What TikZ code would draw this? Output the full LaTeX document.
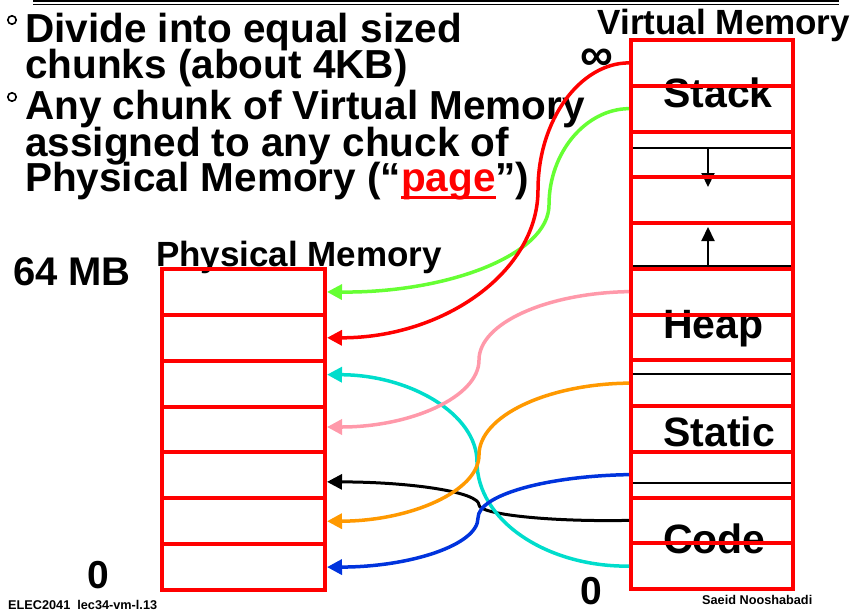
\documentclass[tikz,border=0pt]{standalone}
\usepackage{fontspec}
\setmainfont{Liberation Sans}
\usetikzlibrary{arrows.meta,calc}
\definecolor{pred}{RGB}{255,0,0}
\definecolor{pgreen}{RGB}{102,255,51}
\definecolor{ppink}{RGB}{255,153,170}
\definecolor{pcyan}{RGB}{0,221,204}
\definecolor{porange}{RGB}{255,153,0}
\definecolor{pblue}{RGB}{0,51,221}
\newcommand\myfs[1]{\fontsize{#1}{#1}\selectfont\bfseries}
\newcommand\pageul[1]{\setbox0\hbox{#1}\rlap{\rule[-8pt]{\wd0}{3pt}}#1}
\begin{document}
\begin{tikzpicture}[x=1pt,y=-1pt,
  memrow/.style={draw=pred, line width=4pt, minimum width=162pt, minimum height=45.75pt, inner sep=0pt},
  physrow/.style={memrow, minimum width=163pt, minimum height=45.86pt},
  link/.style={line width=3.5pt, -{Triangle[length=15pt,width=15pt]}},
  txt/.style={inner sep=0pt, anchor=base west},
  bodytxt/.style={txt, font=\myfs{40.5}},
  seglabel/.style={txt, font=\myfs{41}},
  ring/.style={draw, circle, line width=1.6pt, minimum size=8.4pt, inner sep=0pt},
  divider/.style={line width=2.5pt},
  growarrow/.style={line width=2pt, -{Triangle[length=14pt,width=13pt]}}
]
\useasboundingbox (0,0) rectangle (855,610);

% top double rule
\draw[line width=2.5pt] (33,1.25) -- (839,1.25);
\draw[line width=1pt] (33,4.8) -- (839,4.8);

% bullets and body text
\node[ring] (b1) at (12,20) {};
\node[ring] (b2) at (12,97) {};
\node[bodytxt] (t1) at (25,43) {Divide into equal sized};
\node[bodytxt] (t2) at (25,78) {chunks (about 4KB)};
\node[bodytxt] (t3) at (25,120) {Any chunk of Virtual Memory};
\node[bodytxt] (t4) at (25,156) {assigned to any chuck of};
\node[bodytxt] (t5) at (25,191) {Physical Memory (“{\color{pred}\pageul{page}}”)};

% titles and labels
\node[inner sep=0pt, anchor=base, font=\myfs{35}] (vt) at (724,35) {Virtual Memory};
\node[inner sep=0pt, anchor=base, font=\myfs{35}] (pt) at (299,266) {Physical Memory};
\node[inner sep=0pt, anchor=base, font=\myfs{40}] (mb) at (72,285) {64 MB};
\node[inner sep=0pt, anchor=base, font=\myfs{39}] (z1) at (98,588) {0};
\node[inner sep=0pt, anchor=base, font=\myfs{39}] (z2) at (591,604) {0};
\node[inner sep=0pt, font=\myfs{46}] (inf) at (597,60) {∞};
\node[txt, font=\myfs{12.7}] (foot1) at (8,609) {ELEC2041\ \ lec34-vm-l.13};
\node[txt, font=\myfs{12.7}] (foot2) at (702,604) {Saeid Nooshabadi};

% segment labels (under the red rows)
\node[seglabel] (stack) at (663,108) {Stack};
\node[seglabel] (heap) at (663,338) {Heap};
\node[seglabel] (static) at (663,446) {Static};
\node[seglabel] (code) at (663,553) {Code};

% black boundaries inside virtual memory
\coordinate (d1l) at (633,148); \coordinate (d1r) at (792,148);
\coordinate (d2l) at (633,266.5); \coordinate (d2r) at (792,266.5);
\coordinate (d3l) at (633,374); \coordinate (d3r) at (792,374);
\coordinate (d4l) at (633,483); \coordinate (d4r) at (792,483);
\draw[divider] (d1l) -- (d1r);
\draw[divider] (d2l) -- (d2r);
\draw[divider] (d3l) -- (d3r);
\draw[divider] (d4l) -- (d4r);
\coordinate (ga) at (708,148); \coordinate (gb) at (708,187);
\coordinate (gc) at (708,266.5); \coordinate (gd) at (708,227);
\draw[growarrow] (ga) -- (gb);
\draw[growarrow] (gc) -- (gd);

% memory rows
\foreach \i in {1,...,12} \node[memrow] (v\i) at (712,{40+(\i-0.5)*45.75}) {};
\foreach \i in {1,...,7} \node[physrow] (p\i) at (243.5,{269+(\i-0.5)*45.86}) {};

% mappings
\draw[link, draw=black, line width=3pt] (v11.west) .. controls (547,522) and (479,514) .. (479,505)
   .. controls (479,492) and (411,482) .. ([yshift=-6.5pt]p5.east);
\draw[link, draw=pcyan] (v12.west) .. controls (546,567) and (477,520) .. (477,462)
   .. controls (477,414) and (410,375) .. ([yshift=9pt]p3.east);
\draw[link, draw=ppink] (v6.west) .. controls (547,293) and (479,323) .. (479,360)
   .. controls (479,397) and (411,427) .. ([yshift=2.5pt]p4.east);
\draw[link, draw=porange] (v8.west) .. controls (547,384) and (479,416) .. (479,455)
   .. controls (479,491) and (411,521) .. (p6.east);
\draw[link, draw=pblue] (v10.west) .. controls (546.5,476) and (478,495) .. (478,518)
   .. controls (478,545) and (410,567) .. (p7.east);
\draw[link, draw=pgreen] (v2.west) .. controls (586,109) and (549,152) .. (549,205)
   .. controls (549,254) and (449.5,293) .. (p1.east);
\draw[link, draw=pred] (v1.west) .. controls (580,63) and (538,120) .. (538,190)
   .. controls (538,272) and (443.5,338) .. (p2.east);
\end{tikzpicture}
\end{document}
